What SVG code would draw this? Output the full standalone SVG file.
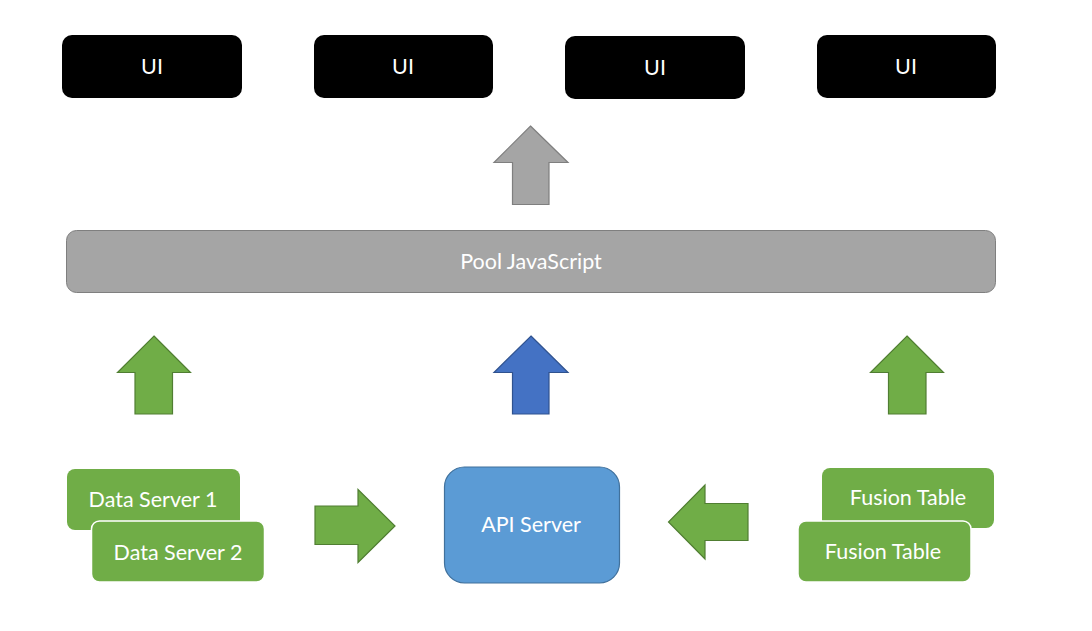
<svg xmlns="http://www.w3.org/2000/svg" width="1092" height="631" viewBox="0 0 1092 631">
<style>
.t{font-family:Lato,"Open Sans","Liberation Sans",sans-serif;font-size:21.5px;fill:#fff;text-anchor:middle;dominant-baseline:central}
.ui{fill:#000}
.g{fill:#70ad47}
.ga{fill:#70ad47;stroke:#507e32;stroke-width:1.2}
</style>
<rect width="1092" height="631" fill="#fff"/>
<g id="ui1"><rect class="ui" x="62" y="35" width="180" height="63" rx="10"/><text class="t" x="152" y="66">UI</text></g>
<g id="ui2"><rect class="ui" x="314" y="35" width="179" height="63" rx="10"/><text class="t" x="403" y="66">UI</text></g>
<g id="ui3"><rect class="ui" x="565" y="36" width="180" height="63" rx="10"/><text class="t" x="655" y="67">UI</text></g>
<g id="ui4"><rect class="ui" x="817" y="35" width="179" height="63" rx="10"/><text class="t" x="906" y="66">UI</text></g>
<g id="pool"><rect x="66.5" y="230.5" width="929" height="62" rx="10" fill="#a5a5a5" stroke="#7f7f7f" stroke-width="1"/><text class="t" x="531" y="261">Pool JavaScript</text></g>
<g id="ds1"><rect class="g" x="67" y="469" width="173" height="61" rx="8"/><text class="t" x="153" y="499">Data Server 1</text></g>
<g id="ds2"><rect class="g" x="91.5" y="521" width="173" height="61" rx="8" stroke="#fff" stroke-width="1.5"/><text class="t" x="178" y="552">Data Server 2</text></g>
<g id="api"><rect x="444.5" y="467" width="175" height="116" rx="20" fill="#5b9bd5" stroke="#41719c" stroke-width="1.2"/><text class="t" x="531" y="524">API Server</text></g>
<g id="ft1"><rect class="g" x="822" y="468" width="172" height="60" rx="8"/><text class="t" x="908" y="497">Fusion Table</text></g>
<g id="ft2"><rect class="g" x="798" y="521" width="173" height="61" rx="8" stroke="#fff" stroke-width="1.5"/><text class="t" x="883" y="551">Fusion Table</text></g>
<g id="connectors">
<polygon points="530.5,126 568,162.5 549,162.5 549,204.5 512.5,204.5 512.5,162.5 494,162.5" fill="#a5a5a5" stroke="#7f7f7f" stroke-width="1.2"/>
<polygon class="ga" points="154,336 190.5,372.5 172.5,372.5 172.5,414 135,414 135,372.5 117.5,372.5"/>
<polygon points="531,336 568,372.5 549,372.5 549,414 512.5,414 512.5,372.5 494,372.5" fill="#4472c4" stroke="#2f528f" stroke-width="1.2"/>
<polygon class="ga" points="907,336 943.5,372.5 926,372.5 926,414 888.5,414 888.5,372.5 870.5,372.5"/>
<polygon class="ga" points="315,506 358,506 358,489.5 395,526 358,562.5 358,544.5 315,544.5"/>
<polygon class="ga" points="748,503.5 705,503.5 705,485 668.5,522 705,559 705,540.5 748,540.5"/>
</g>
</svg>
